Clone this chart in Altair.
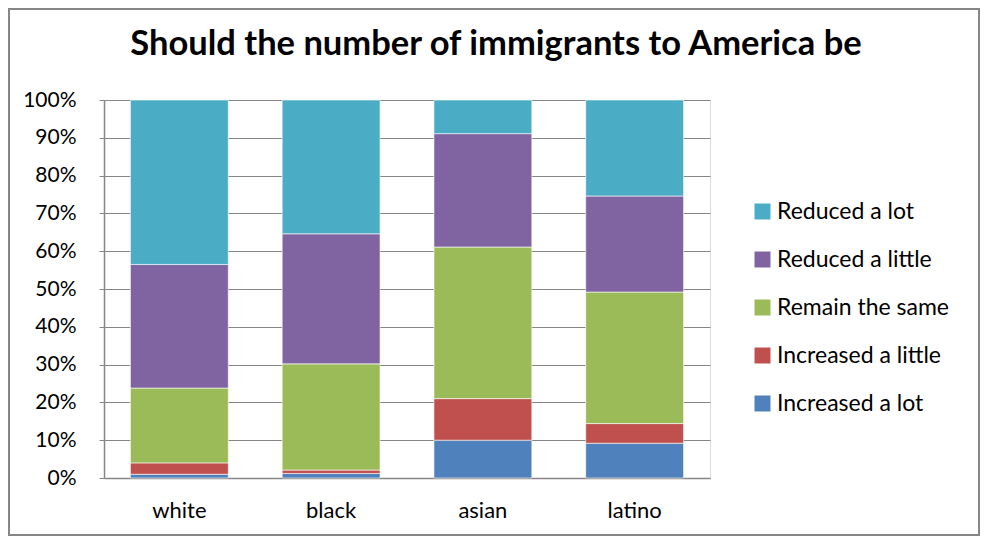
import altair as alt
import pandas as pd

groups = ["white", "black", "asian", "latino"]
responses = ["Increased a lot", "Increased a little", "Remain the same",
             "Reduced a little", "Reduced a lot"]
increased_lot = [1.0, 1.2, 10.0, 9.2]
increased_little = [3.0, 0.9, 11.0, 5.2]
remain_same = [19.8, 28.1, 40.1, 34.8]
reduced_little = [32.7, 34.4, 30.0, 25.4]
reduced_lot = [43.5, 35.4, 8.9, 25.4]
colors = ["#4F81BD", "#C0504D", "#9BBB59", "#8064A2", "#4BACC6"]
y_ticks = [i / 10 for i in range(11)]

series = [increased_lot, increased_little, remain_same, reduced_little, reduced_lot]
rows = []
for k, (resp, vals) in enumerate(zip(responses, series)):
    for g, v in zip(groups, vals):
        rows.append({"group": g, "response": resp, "value": v, "idx": k})
df = pd.DataFrame(rows)

FONT = "Lato"
W, H = 606, 378
PL, PT, PR, PB = 96, 92, 270, 58

bars = alt.Chart(df).mark_bar(stroke="white", strokeWidth=0.6).encode(
    x=alt.X("group:N", sort=groups, title=None,
            scale=alt.Scale(paddingInner=0.355, paddingOuter=0.174),
            axis=alt.Axis(labelAngle=0, ticks=False, labelFontSize=22, labelFont=FONT,
                          labelColor="black", labelPadding=22, domainColor="#868686",
                          domainWidth=1.5, grid=False)),
    y=alt.Y("value:Q", stack="normalize", title=None,
            scale=alt.Scale(domain=[0, 1]),
            axis=alt.Axis(values=y_ticks, format=".0%", labelFontSize=21, labelFont=FONT,
                          labelColor="black", labelPadding=23, tickSize=5,
                          tickColor="#868686", domainColor="#868686", domainWidth=1.5,
                          gridColor="#868686", gridWidth=1.2, gridOpacity=1)),
    color=alt.Color("response:N",
                    scale=alt.Scale(domain=responses[::-1], range=colors[::-1]),
                    legend=alt.Legend(title=None, orient="none", legendX=647, legendY=100,
                                      symbolType="square", symbolSize=256,
                                      symbolStrokeWidth=0, labelFontSize=23,
                                      labelFont=FONT, labelColor="black", labelLimit=400,
                                      rowPadding=24, labelOffset=3)),
    order=alt.Order("idx:Q", sort="ascending"),
)

border = alt.Chart(df).mark_rect(fill=None, stroke="#868686", strokeWidth=1.5).encode(
    x=alt.value(-(PL - 1)), x2=alt.value(W + PR - 1),
    y=alt.value(-(PT - 1)), y2=alt.value(H + PB - 1),
)

chart = alt.layer(bars, border).properties(
    width=W, height=H,
    title=alt.TitleParams("Should the number of immigrants to America be",
                          font=FONT, fontSize=34.5, fontWeight="bold", color="black",
                          anchor="middle", dx=(496 - (8 + PL + W / 2)), dy=62, offset=8),
    autosize=alt.AutoSizeParams(type="none"),
    padding={"left": PL, "top": PT, "right": PR, "bottom": PB},
).configure_view(stroke=None).configure(background="white")

chart.save("out.html", embed_options={"renderer": "svg", "actions": False})
